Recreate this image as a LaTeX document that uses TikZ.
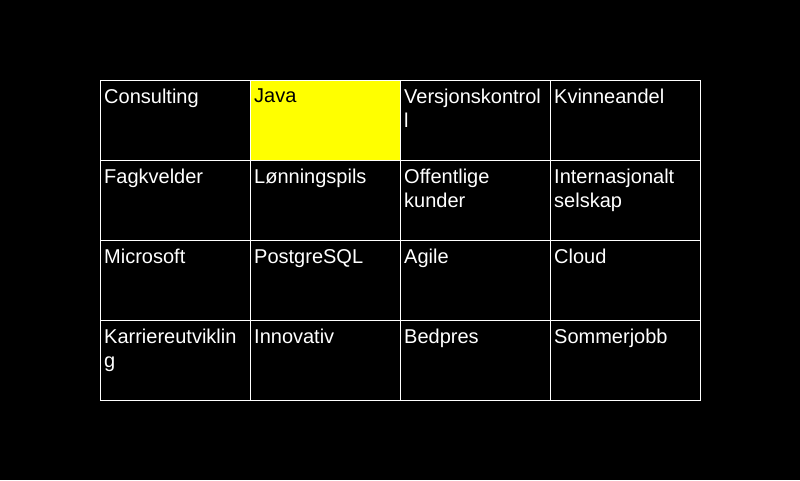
\documentclass[tikz,border=0pt]{standalone}
\usepackage{fontspec}
\setmainfont{Liberation Sans}
\usetikzlibrary{calc}

\definecolor{hilite}{RGB}{255,255,0}
\definecolor{ink}{RGB}{0,0,0}
\definecolor{paper}{RGB}{255,255,255}

\tikzset{
  cell/.style={rectangle, draw=paper, line width=1pt, minimum width=150pt,
    minimum height=80pt, inner sep=0pt, anchor=north west},
  word/.style={anchor=north west, inner sep=0pt, align=left,
    font=\fontsize{20}{24}\selectfont},
  marked/.style={fill=hilite},
}

\begin{document}
\begin{tikzpicture}[x=1pt,y=-1pt]
		\fill[ink] (0,0) rectangle (800,480);
		\useasboundingbox (0,0) rectangle (800,480);

		\foreach \r/\a/\b/\c/\d in {
			1/Consulting/Java/Versjonskontrol\\l/Kvinneandel,
			2/Fagkvelder/Lønningspils/Offentlige\\kunder/Internasjonalt\\selskap,
			3/Microsoft/PostgreSQL/Agile/Cloud,
			4/Karriereutviklin\\g/Innovativ/Bedpres/Sommerjobb}
		{
			\path (100, 80*\r) node[cell] (c\r1) {}
				(250, 80*\r) node[cell] (c\r2) {}
				(400, 80*\r) node[cell] (c\r3) {}
				(550, 80*\r) node[cell] (c\r4) {};
			\ifnum\r=1 \node[cell, marked] at (c12.north west) (java) {}; \fi
			\path ($(c\r1.north west)+(4,9)$) node[word, text=paper] (w\r1) {\a}
				($(c\r3.north west)+(4,9)$) node[word, text=paper] (w\r3) {\c}
				($(c\r4.north west)+(4,9)$) node[word, text=paper] (w\r4) {\d};
			\ifnum\r=1
				\node[word, text=ink] at ($(c\r2.north west)+(4,9)$) (w\r2) {\b};
			\else
				\node[word, text=paper] at ($(c\r2.north west)+(4,9)$) (w\r2) {\b};
			\fi
		}
\end{tikzpicture}
\end{document}
